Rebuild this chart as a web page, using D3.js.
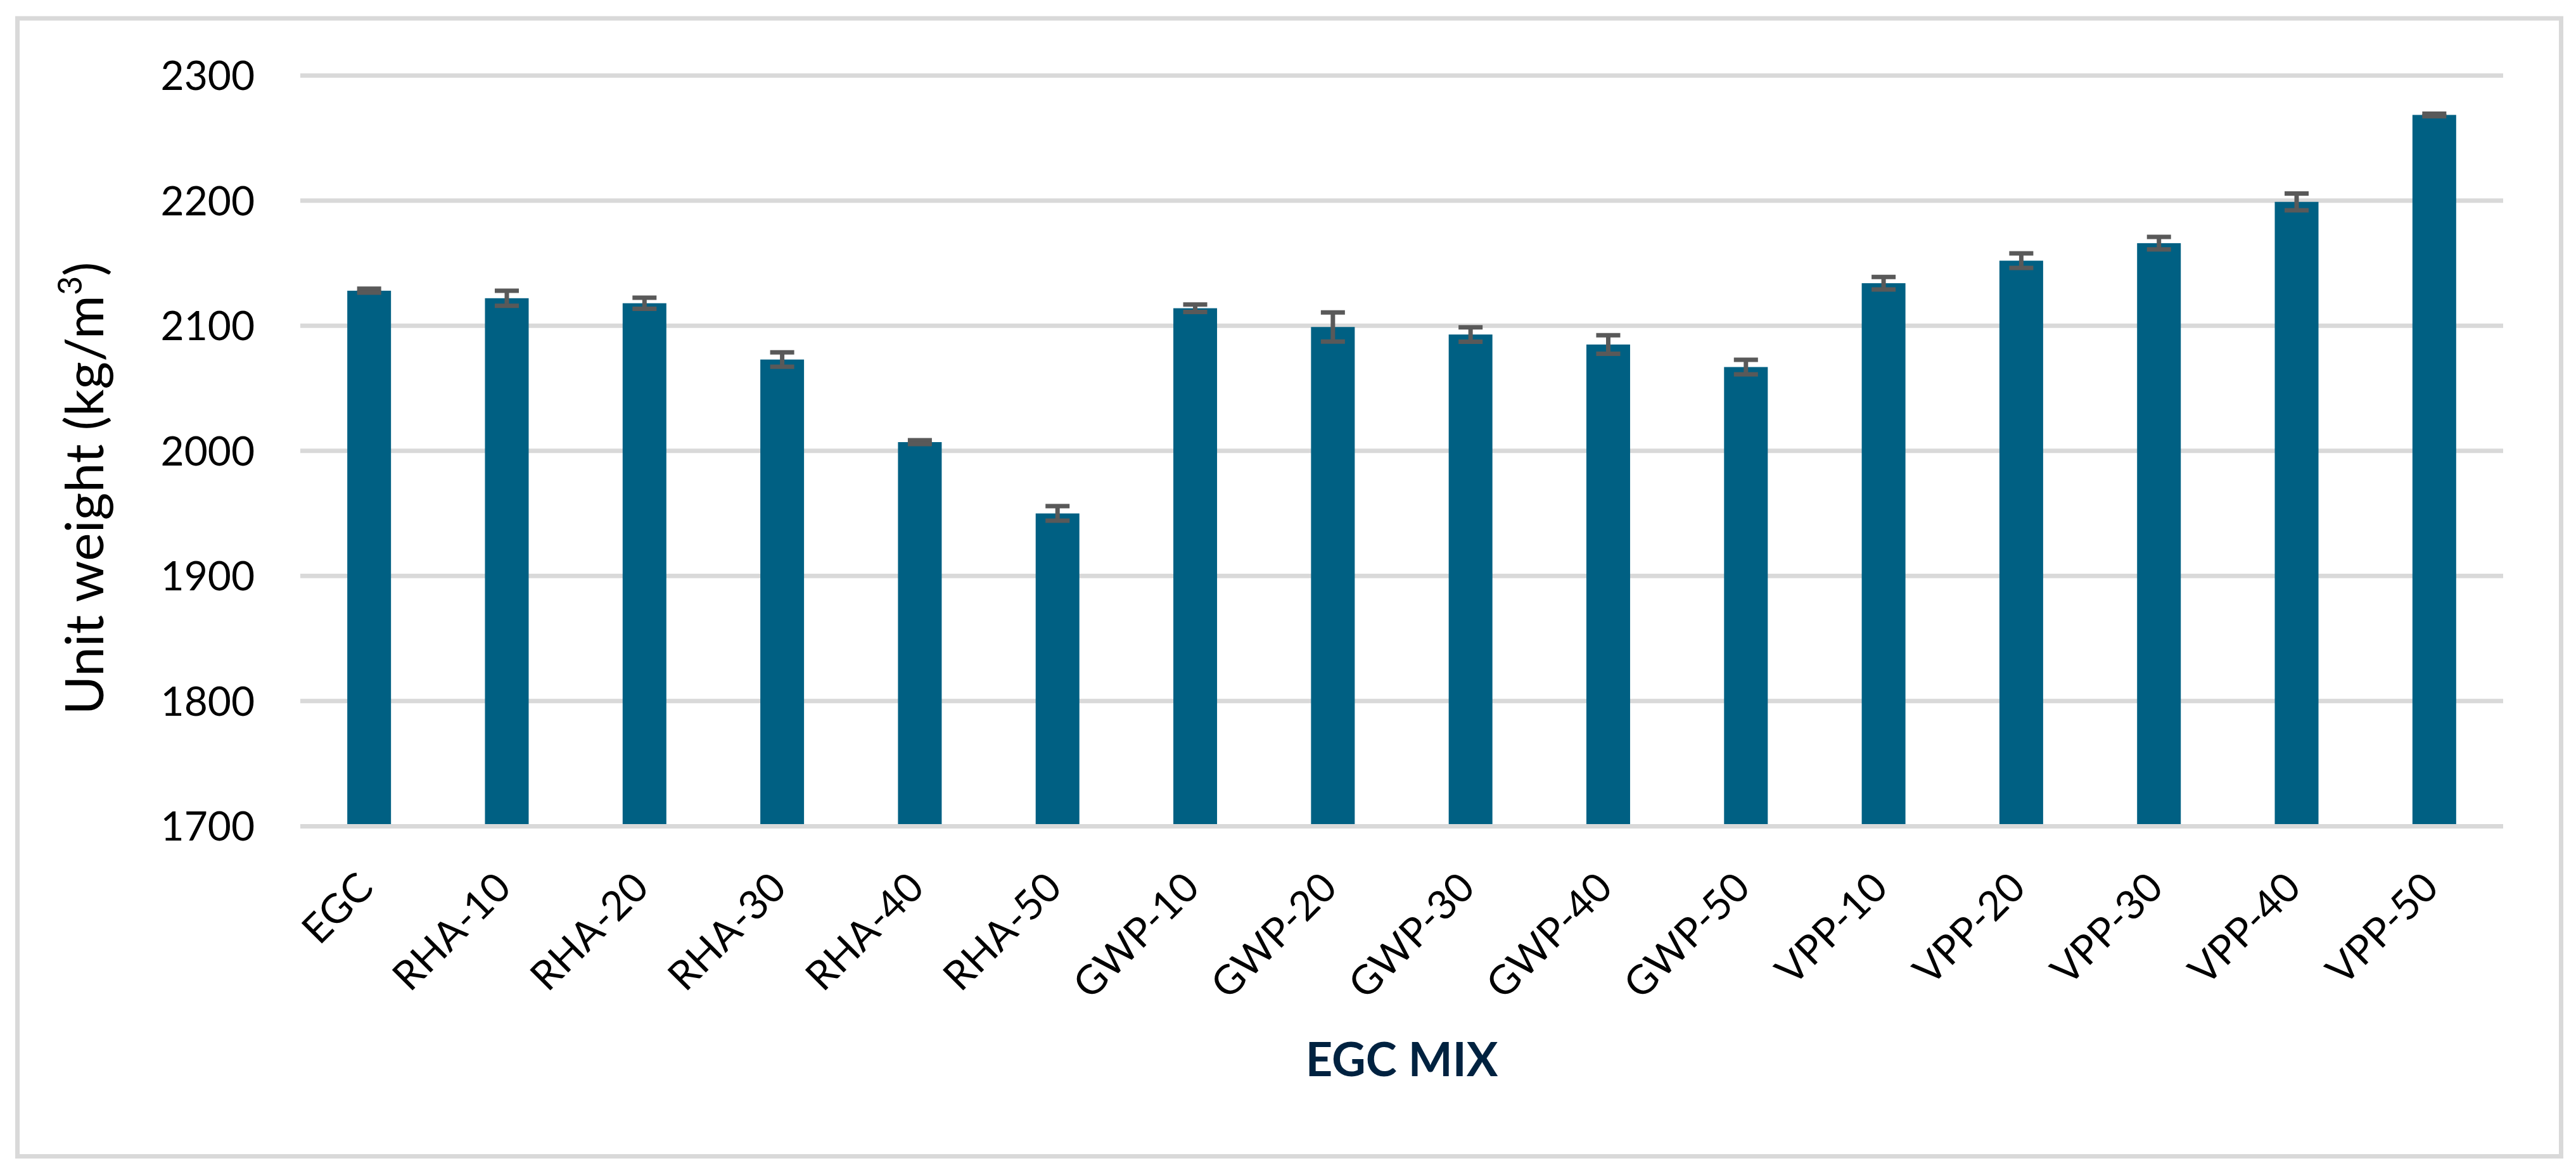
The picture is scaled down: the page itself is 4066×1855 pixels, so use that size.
<!DOCTYPE html>
<html>
<head>
<meta charset="utf-8">
<script src="https://cdn.jsdelivr.net/npm/d3@7"></script>
<style>
  html, body { margin: 0; padding: 0; background: #ffffff; }
  svg { display: block; }
  text { font-family: 'Lato', 'Open Sans', sans-serif; }
</style>
</head>
<body>
<svg id="chart" width="4066" height="1855"></svg>
<script>
// ---- data ----
const categories = ["EGC", "RHA-10", "RHA-20", "RHA-30", "RHA-40", "RHA-50",
  "GWP-10", "GWP-20", "GWP-30", "GWP-40", "GWP-50",
  "VPP-10", "VPP-20", "VPP-30", "VPP-40", "VPP-50"];
const unitWeight = [2128, 2122, 2118, 2073, 2007, 1950,
  2114, 2099, 2093, 2085, 2067,
  2134, 2152, 2166, 2199, 2268.5];
const errors = [1.6, 6, 4.4, 5.8, 1.5, 5.8,
  3, 11.6, 5.8, 7.4, 5.8,
  5, 5.8, 5, 6.7, 1];
const yTicks = [1700, 1800, 1900, 2000, 2100, 2200, 2300];
const yTitle = "Unit weight (kg/m";
const yTitleSup = "3";
const xTitle = "EGC MIX";

// ---- layout ----
const W = 4066, H = 1855;
const plot = { left: 474, right: 3951, top: 119.2, bottom: 1304.4 };
const svg = d3.select("#chart");

svg.append("rect")
  .attr("x", 27.5).attr("y", 29).attr("width", 4015).attr("height", 1796.5)
  .attr("fill", "#ffffff").attr("stroke", "#d9d9d9").attr("stroke-width", 7);

const x = d3.scaleBand().domain(categories)
  .range([plot.left, plot.right]).paddingInner(0.6825).paddingOuter(0.6825 / 2);
const y = d3.scaleLinear().domain([1700, 2300]).range([plot.bottom, plot.top]);

// gridlines (except baseline)
svg.append("g").selectAll("line")
  .data(yTicks.filter(d => d !== 1700)).join("line")
  .attr("x1", plot.left).attr("x2", plot.right)
  .attr("y1", d => y(d)).attr("y2", d => y(d))
  .attr("stroke", "#d9d9d9").attr("stroke-width", 7);

// bars
const data = categories.map((c, i) => ({ c, v: unitWeight[i], e: errors[i] }));
svg.append("g").selectAll("rect")
  .data(data).join("rect")
  .attr("x", d => x(d.c))
  .attr("width", x.bandwidth())
  .attr("y", d => y(d.v))
  .attr("height", d => y(1700) - y(d.v))
  .attr("fill", "#006083");

// baseline
svg.append("line")
  .attr("x1", plot.left).attr("x2", plot.right)
  .attr("y1", y(1700)).attr("y2", y(1700))
  .attr("stroke", "#d9d9d9").attr("stroke-width", 7);

// error bars
const eb = svg.append("g").attr("stroke", "#595959").attr("stroke-width", 7);
const capHalf = 19;
data.forEach(d => {
  const cx = x(d.c) + x.bandwidth() / 2;
  eb.append("line").attr("x1", cx).attr("x2", cx)
    .attr("y1", y(d.v + d.e)).attr("y2", y(d.v - d.e));
  [d.v + d.e, d.v - d.e].forEach(val => {
    eb.append("line").attr("x1", cx - capHalf).attr("x2", cx + capHalf)
      .attr("y1", y(val)).attr("y2", y(val));
  });
});

// y tick labels
svg.append("g").selectAll("text")
  .data(yTicks).join("text")
  .attr("x", 402).attr("y", d => y(d)).attr("dy", "0.36em")
  .attr("text-anchor", "end")
  .attr("font-size", 64).attr("fill", "#000000")
  .text(d => d);

// x tick labels
svg.append("g").selectAll("text")
  .data(categories).join("text")
  .attr("transform", d => `translate(${x(d) + x.bandwidth() / 2 + 10},1405) rotate(-45)`)
  .attr("text-anchor", "end")
  .attr("font-size", 64).attr("fill", "#000000")
  .text(d => d);

// y axis title
const yt = svg.append("text")
  .attr("transform", "translate(163,771) rotate(-90)")
  .attr("text-anchor", "middle")
  .attr("font-size", 84).attr("fill", "#000000");
yt.append("tspan").text(yTitle);
yt.append("tspan").attr("font-size", 52).attr("dy", -34).text(yTitleSup);
yt.append("tspan").attr("dy", 34).text(")");

// x axis title
svg.append("text")
  .attr("x", (plot.left + plot.right) / 2).attr("y", 1699)
  .attr("text-anchor", "middle")
  .attr("font-size", 74).attr("font-weight", "bold").attr("fill", "#002240")
  .text(xTitle);
</script>
</body>
</html>
